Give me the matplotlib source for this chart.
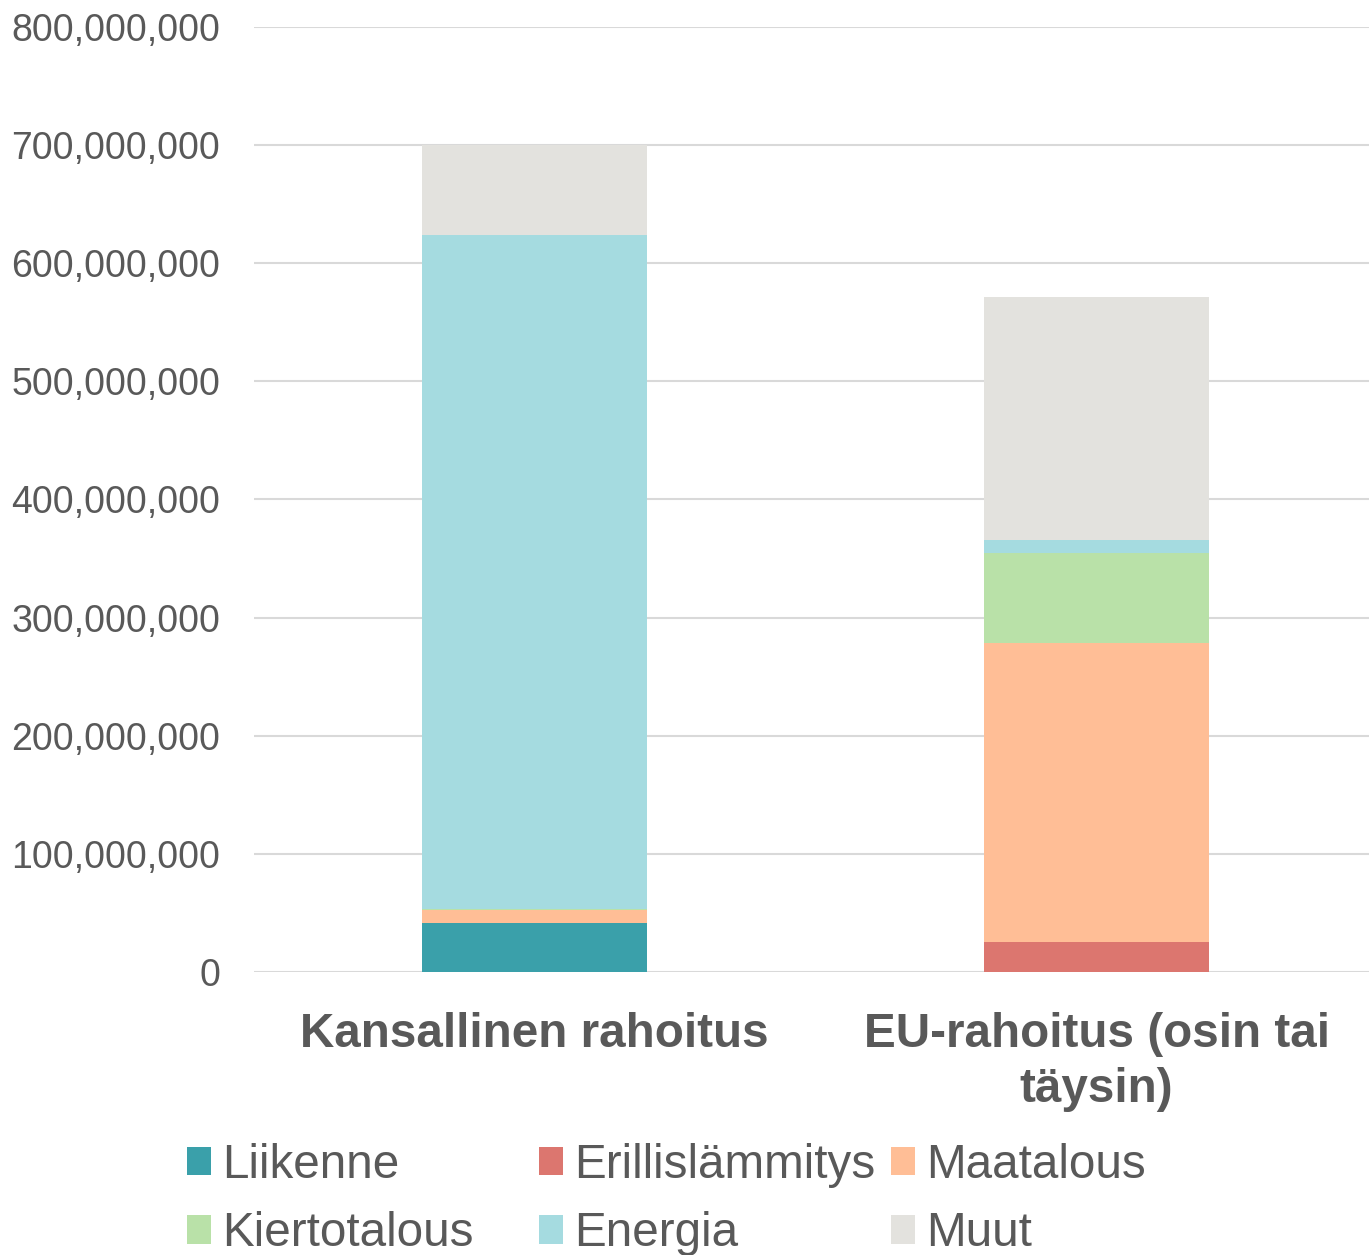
import matplotlib.pyplot as plt
from matplotlib.patches import Patch
from matplotlib.ticker import FuncFormatter

plt.rcParams['font.family'] = ['Liberation Sans', 'DejaVu Sans']

# Rahoitus luokittain (miljoonaa euroa)
categories = ["Kansallinen rahoitus", "EU-rahoitus (osin tai\ntäysin)"]
series = ["Liikenne", "Erillislämmitys", "Maatalous", "Kiertotalous", "Energia", "Muut"]
liikenne = [41.5, 0]
erillislammitys = [0, 25.7]
maatalous = [11.0, 252.5]
kiertotalous = [1.0, 76.5]
energia = [570.5, 11.0]
muut = [76.0, 205.7]
colors = ["#3AA0AA", "#DC766F", "#FFBE96", "#B9E1A8", "#A5DBE0", "#E3E2DE"]

values = [liikenne, erillislammitys, maatalous, kiertotalous, energia, muut]
text_color = "#595959"

fig = plt.figure(figsize=(13.69, 12.55), dpi=100)
ax = fig.add_axes([253.5 / 1369, 0.2255, 1124 / 1369, 0.7530])

x = list(range(len(categories)))
bottom = [0.0] * len(categories)
for name, vals, col in zip(series, values, colors):
    v = [val * 1e6 for val in vals]
    ax.bar(x, v, width=0.4, bottom=bottom, color=col, label=name, zorder=3)
    bottom = [b + vv for b, vv in zip(bottom, v)]

ax.set_xlim(-0.5, 1.5)
ax.set_ylim(0, 800e6)
ax.set_yticks([i * 100e6 for i in range(9)])
ax.yaxis.set_major_formatter(FuncFormatter(lambda y, p: f"{int(y):,}"))
ax.grid(axis='y', color='#D9D9D9', linewidth=1.5, zorder=0)
for s in ax.spines.values():
    s.set_visible(False)
ax.tick_params(axis='y', length=0, pad=24, labelsize=27, labelcolor=text_color)
ax.tick_params(axis='x', length=0, pad=29)
ax.set_xticks(x)
ax.set_xticklabels(categories, fontsize=34.3, fontweight='bold', color=text_color,
                   linespacing=1.27)

# Selite kolmessa sarakkeessa
handles = [Patch(facecolor=c, edgecolor='none') for c in colors]
cols = [[0, 3], [1, 4], [2, 5]]
col_x = [187 / 1369, 539 / 1369, 891 / 1369]
for cx, idx in zip(col_x, cols):
    fig.legend([handles[i] for i in idx], [series[i] for i in idx],
               loc='upper left', bbox_to_anchor=(cx, 1 - 1143 / 1255),
               frameon=False, fontsize=34.3, labelcolor=text_color,
               handlelength=0.5, handleheight=0.53, handletextpad=0.23,
               labelspacing=0.49, borderpad=0, borderaxespad=0)

fig.savefig("out.png", dpi=100)
